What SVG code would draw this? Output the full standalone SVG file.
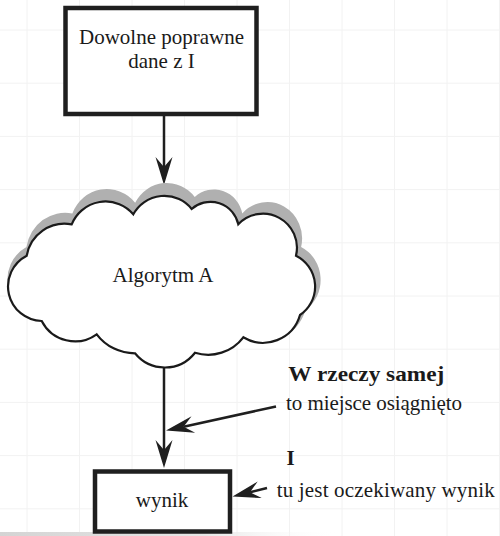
<svg xmlns="http://www.w3.org/2000/svg" width="500" height="536" viewBox="0 0 500 536">
  <style>
    .grid { stroke: #f2f2f2; stroke-width: 1; fill: none; }
    .box { fill: #ffffff; stroke: #1f1f1f; stroke-width: 4.5; }
    .cloud { fill: #ffffff; stroke: #1a1a1a; stroke-width: 2.2; stroke-linejoin: miter; }
    .cloud-shadow { fill: #b0b0b0; stroke: none; }
    .edge { fill: none; stroke: #1f1f1f; stroke-width: 2.5; }
    .lbl { font-family: "Liberation Serif", "Times New Roman", serif; font-size: 21px; fill: #1a1a1a; }
    .mid { text-anchor: middle; }
    .bold { font-weight: bold; }
  </style>
  <defs>
    <!-- stealth-style head: line ends at the notch, tip 18px further on -->
    <marker id="head" markerUnits="userSpaceOnUse" viewBox="-12 -10 32 20" refX="0" refY="0" markerWidth="32" markerHeight="20" orient="auto">
      <path d="M18,0 L-10,-8.5 L0,0 L-10,8.5 Z" fill="#1f1f1f"/>
    </marker>
    <linearGradient id="edgeFade" x1="0" y1="0" x2="1" y2="0">
      <stop offset="0" stop-color="#d4d4d4"/>
      <stop offset="0.6" stop-color="#e6e6e6"/>
      <stop offset="1" stop-color="#ffffff" stop-opacity="0"/>
    </linearGradient>
    <path id="cloudShape" d="M26.7,255.7 A38.5,38.5 0 0 1 71.7,224.3 A36.5,36.5 0 0 1 133.3,214.3 A35.2,35.2 0 0 1 191.7,209 A28.4,28.4 0 0 1 238.3,224.3 A34,34 0 0 1 296,255.7 A34.4,34.4 0 0 1 300,315 A38.4,38.4 0 0 1 243.3,337.3 A44,44 0 0 1 195,352.7 A38.3,38.3 0 0 1 135,353.3 A48,48 0 0 1 96.7,334.3 A37.3,37.3 0 0 1 41.7,321 A34.6,34.6 0 0 1 26.7,255.7 Z"/>
  </defs>

  <rect width="500" height="536" fill="#ffffff"/>

  <!-- background grid -->
  <g id="grid">
    <path class="grid" d="M27,0V536 M79.5,0V536 M132,0V536 M184.5,0V536 M237,0V536 M289.5,0V536 M342,0V536 M394.5,0V536 M447,0V536 M499.5,0V536
                          M0,30H500 M0,83.2H500 M0,136.4H500 M0,189.6H500 M0,242.8H500 M0,296H500 M0,349.2H500 M0,402.4H500 M0,455.6H500 M0,508.8H500"/>
    <rect x="0" y="532" width="340" height="4" fill="url(#edgeFade)"/>
  </g>

  <!-- connectors -->
  <g id="connectors">
    <line class="edge" x1="164" y1="116" x2="164" y2="167" marker-end="url(#head)"/>
    <line class="edge" x1="164" y1="368" x2="164" y2="450" marker-end="url(#head)"/>
    <line class="edge" x1="276" y1="406.5" x2="183.6" y2="426.7" marker-end="url(#head)"/>
    <line class="edge" x1="267" y1="488" x2="250" y2="492.2" marker-end="url(#head)"/>
  </g>

  <g id="node-input">
    <rect class="box" x="65.5" y="8" width="191" height="106"/>
    <text class="lbl mid" x="161.5" y="44.3">Dowolne poprawne</text>
    <text class="lbl mid" x="161.5" y="68.3">dane z I</text>
  </g>

  <g id="node-algorithm">
    <use href="#cloudShape" class="cloud-shadow" transform="matrix(1.02,0,0,1.07,-0.8,-26.6)"/>
    <use href="#cloudShape" class="cloud"/>
    <text class="lbl mid" x="163" y="281.7">Algorytm A</text>
  </g>

  <g id="node-result">
    <rect class="box" x="95" y="471.5" width="135" height="60"/>
    <text class="lbl mid" x="162" y="506.7">wynik</text>
  </g>

  <g id="note-reached">
    <text class="lbl bold" x="288.3" y="380.5" textLength="156" lengthAdjust="spacingAndGlyphs">W rzeczy samej</text>
    <text class="lbl" x="286" y="410" textLength="176">to miejsce osiągnięto</text>
  </g>

  <g id="note-result">
    <text class="lbl bold" x="286.5" y="465">I</text>
    <text class="lbl" x="276.7" y="496.7" textLength="218">tu jest oczekiwany wynik</text>
  </g>
</svg>
